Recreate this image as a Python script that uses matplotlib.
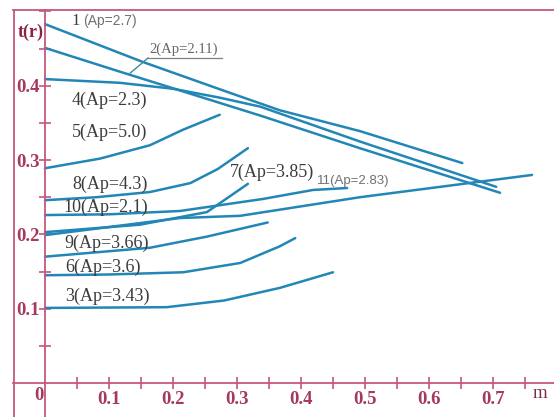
import matplotlib
matplotlib.use("Agg")
import matplotlib.pyplot as plt
from matplotlib.lines import Line2D
from matplotlib.ticker import FixedLocator, FixedFormatter

# ---- data ----
c1_m = [0, 0.153, 0.284, 0.367, 0.492, 0.652]
c1_t = [0.483, 0.432, 0.392, 0.367, 0.339, 0.296]
c2_m = [0, 0.117, 0.336, 0.492, 0.711]
c2_t = [0.451, 0.419, 0.360, 0.316, 0.256]
c4_m = [0, 0.117, 0.2, 0.273, 0.336, 0.492, 0.705]
c4_t = [0.409, 0.404, 0.396, 0.384, 0.372, 0.325, 0.264]
c5_m = [0, 0.086, 0.164, 0.216, 0.273]
c5_t = [0.289, 0.302, 0.320, 0.341, 0.361]
c8_m = [0, 0.08, 0.164, 0.227, 0.27, 0.317]
c8_t = [0.246, 0.250, 0.257, 0.269, 0.288, 0.316]
c10_m = [0, 0.1, 0.211, 0.34, 0.419, 0.472]
c10_t = [0.226, 0.227, 0.2315, 0.2476, 0.2598, 0.2624]
c11_m = [0, 0.211, 0.305, 0.492, 0.761]
c11_t = [0.199, 0.222, 0.225, 0.250, 0.280]
c7_m = [0, 0.148, 0.253, 0.317]
c7_t = [0.203, 0.213, 0.230, 0.268]
c9_m = [0, 0.164, 0.253, 0.348]
c9_t = [0.170, 0.182, 0.197, 0.216]
c6_m = [0, 0.1, 0.216, 0.305, 0.367, 0.391]
c6_t = [0.145, 0.146, 0.149, 0.1615, 0.184, 0.195]
c3_m = [0, 0.19, 0.28, 0.367, 0.45]
c3_t = [0.101, 0.102, 0.111, 0.128, 0.149]

curves = [(c1_m, c1_t), (c2_m, c2_t), (c4_m, c4_t), (c5_m, c5_t),
          (c8_m, c8_t), (c10_m, c10_t), (c11_m, c11_t), (c7_m, c7_t),
          (c9_m, c9_t), (c6_m, c6_t), (c3_m, c3_t)]

x_major = [0.1, 0.2, 0.3, 0.4, 0.5, 0.6, 0.7]
x_major_labels = ["0.1", "0.2", "0.3", "0.4", "0.5", "0.6", "0.7"]
x_minor = [0.05, 0.15, 0.25, 0.35, 0.45, 0.55, 0.65, 0.75]
y_major = [0.1, 0.2, 0.3, 0.4]
y_major_labels = ["0.1", "0.2", "0.3", "0.4"]
y_minor = [0.05, 0.15, 0.25, 0.35, 0.45, 0.5]

big_labels = ["4(Ap=2.3)", "5(Ap=5.0)", "8(Ap=4.3)", "10(Ap=2.1)",
              "7(Ap=3.85)", "9(Ap=3.66)", "6(Ap=3.6)", "3(Ap=3.43)"]
big_label_pos = [(0.042, 0.381), (0.042, 0.338), (0.042, 0.268), (0.028, 0.237),
                 (0.289, 0.284), (0.031, 0.188), (0.031, 0.156), (0.031, 0.117)]

# ---- styling ----
line_col = "#2287b6"
axis_col = "#c4587c"
lab_col = "#a63a5e"
txt_col = "#3c3c3c"
serif = ["Liberation Serif", "DejaVu Serif"]

fig = plt.figure(figsize=(5.54, 4.17), dpi=100)
fig.patch.set_facecolor("white")
ax = fig.add_axes([13 / 554, 0, 1 - 13 / 554, 407 / 417])
ax.set_facecolor("white")
ax.set_xlim(-0.05, 0.7953)
ax.set_ylim(-0.0458, 0.502)

for m, t in curves:
    ax.plot(m, t, color=line_col, lw=1.8, solid_capstyle="round")

# spines through the origin
ax.spines["left"].set_position(("data", 0))
ax.spines["bottom"].set_position(("data", 0))
ax.spines["right"].set_visible(False)
for s in ["left", "bottom", "top"]:
    ax.spines[s].set_color(axis_col)
    ax.spines[s].set_linewidth(1.3)
# frame left line
ax.add_line(Line2D([0.002, 0.002], [0, 1], transform=ax.transAxes,
                   color=axis_col, lw=1.3, clip_on=False))

ax.xaxis.set_major_locator(FixedLocator(x_major))
ax.xaxis.set_major_formatter(FixedFormatter(x_major_labels))
ax.xaxis.set_minor_locator(FixedLocator(x_minor))
ax.yaxis.set_major_locator(FixedLocator(y_major))
ax.yaxis.set_major_formatter(FixedFormatter(y_major_labels))
ax.yaxis.set_minor_locator(FixedLocator(y_minor))
ax.tick_params(axis="both", which="both", direction="inout", color=axis_col,
               width=1.2, length=8)
ax.tick_params(axis="x", which="major", pad=2)
ax.tick_params(axis="y", which="major", pad=0)
for lab in ax.get_xticklabels() + ax.get_yticklabels():
    lab.set_fontfamily(serif)
    lab.set_fontsize(13.5)
    lab.set_fontweight("bold")
    lab.set_color(lab_col)

ax.text(-0.0094, -0.0175, "0", fontsize=13.5, fontweight="bold", color=lab_col,
        family=serif, ha="center", va="center")
ax.text(-0.023, 0.472, "t(r)", fontsize=13, fontweight="bold", color="#8a2444",
        family=serif, ha="center", va="center")
ax.text(0.773, -0.0135, "m", fontsize=13.5, color="#7a2c4c", family=serif,
        ha="center", va="center")

# curve labels
for s, (x, y) in zip(big_labels, big_label_pos):
    ax.text(x, y, s, fontsize=13, color=txt_col, family=serif, ha="left", va="center")

ax.text(0.042, 0.487, "1", fontsize=12, color=txt_col, family=serif, ha="left", va="center")
ax.text(0.059, 0.487, "(Ap=2.7)", fontsize=10, color="#707070",
        family=["Liberation Sans", "DejaVu Sans"], ha="left", va="center")
ax.text(0.163, 0.449, "2(Ap=2.11)", fontsize=10.5, color="#666666",
        family=serif, ha="left", va="center")
ax.plot([0.161, 0.277], [0.4374, 0.4374], color="#808080", lw=0.9)
ax.plot([0.161, 0.133], [0.4374, 0.417], color="#3a8c9c", lw=1.0)
ax.text(0.425, 0.272, "11(Ap=2.83)", fontsize=9.5, color="#707070",
        family=["Liberation Sans", "DejaVu Sans"], ha="left", va="center")

fig.savefig("out.png", dpi=100)
